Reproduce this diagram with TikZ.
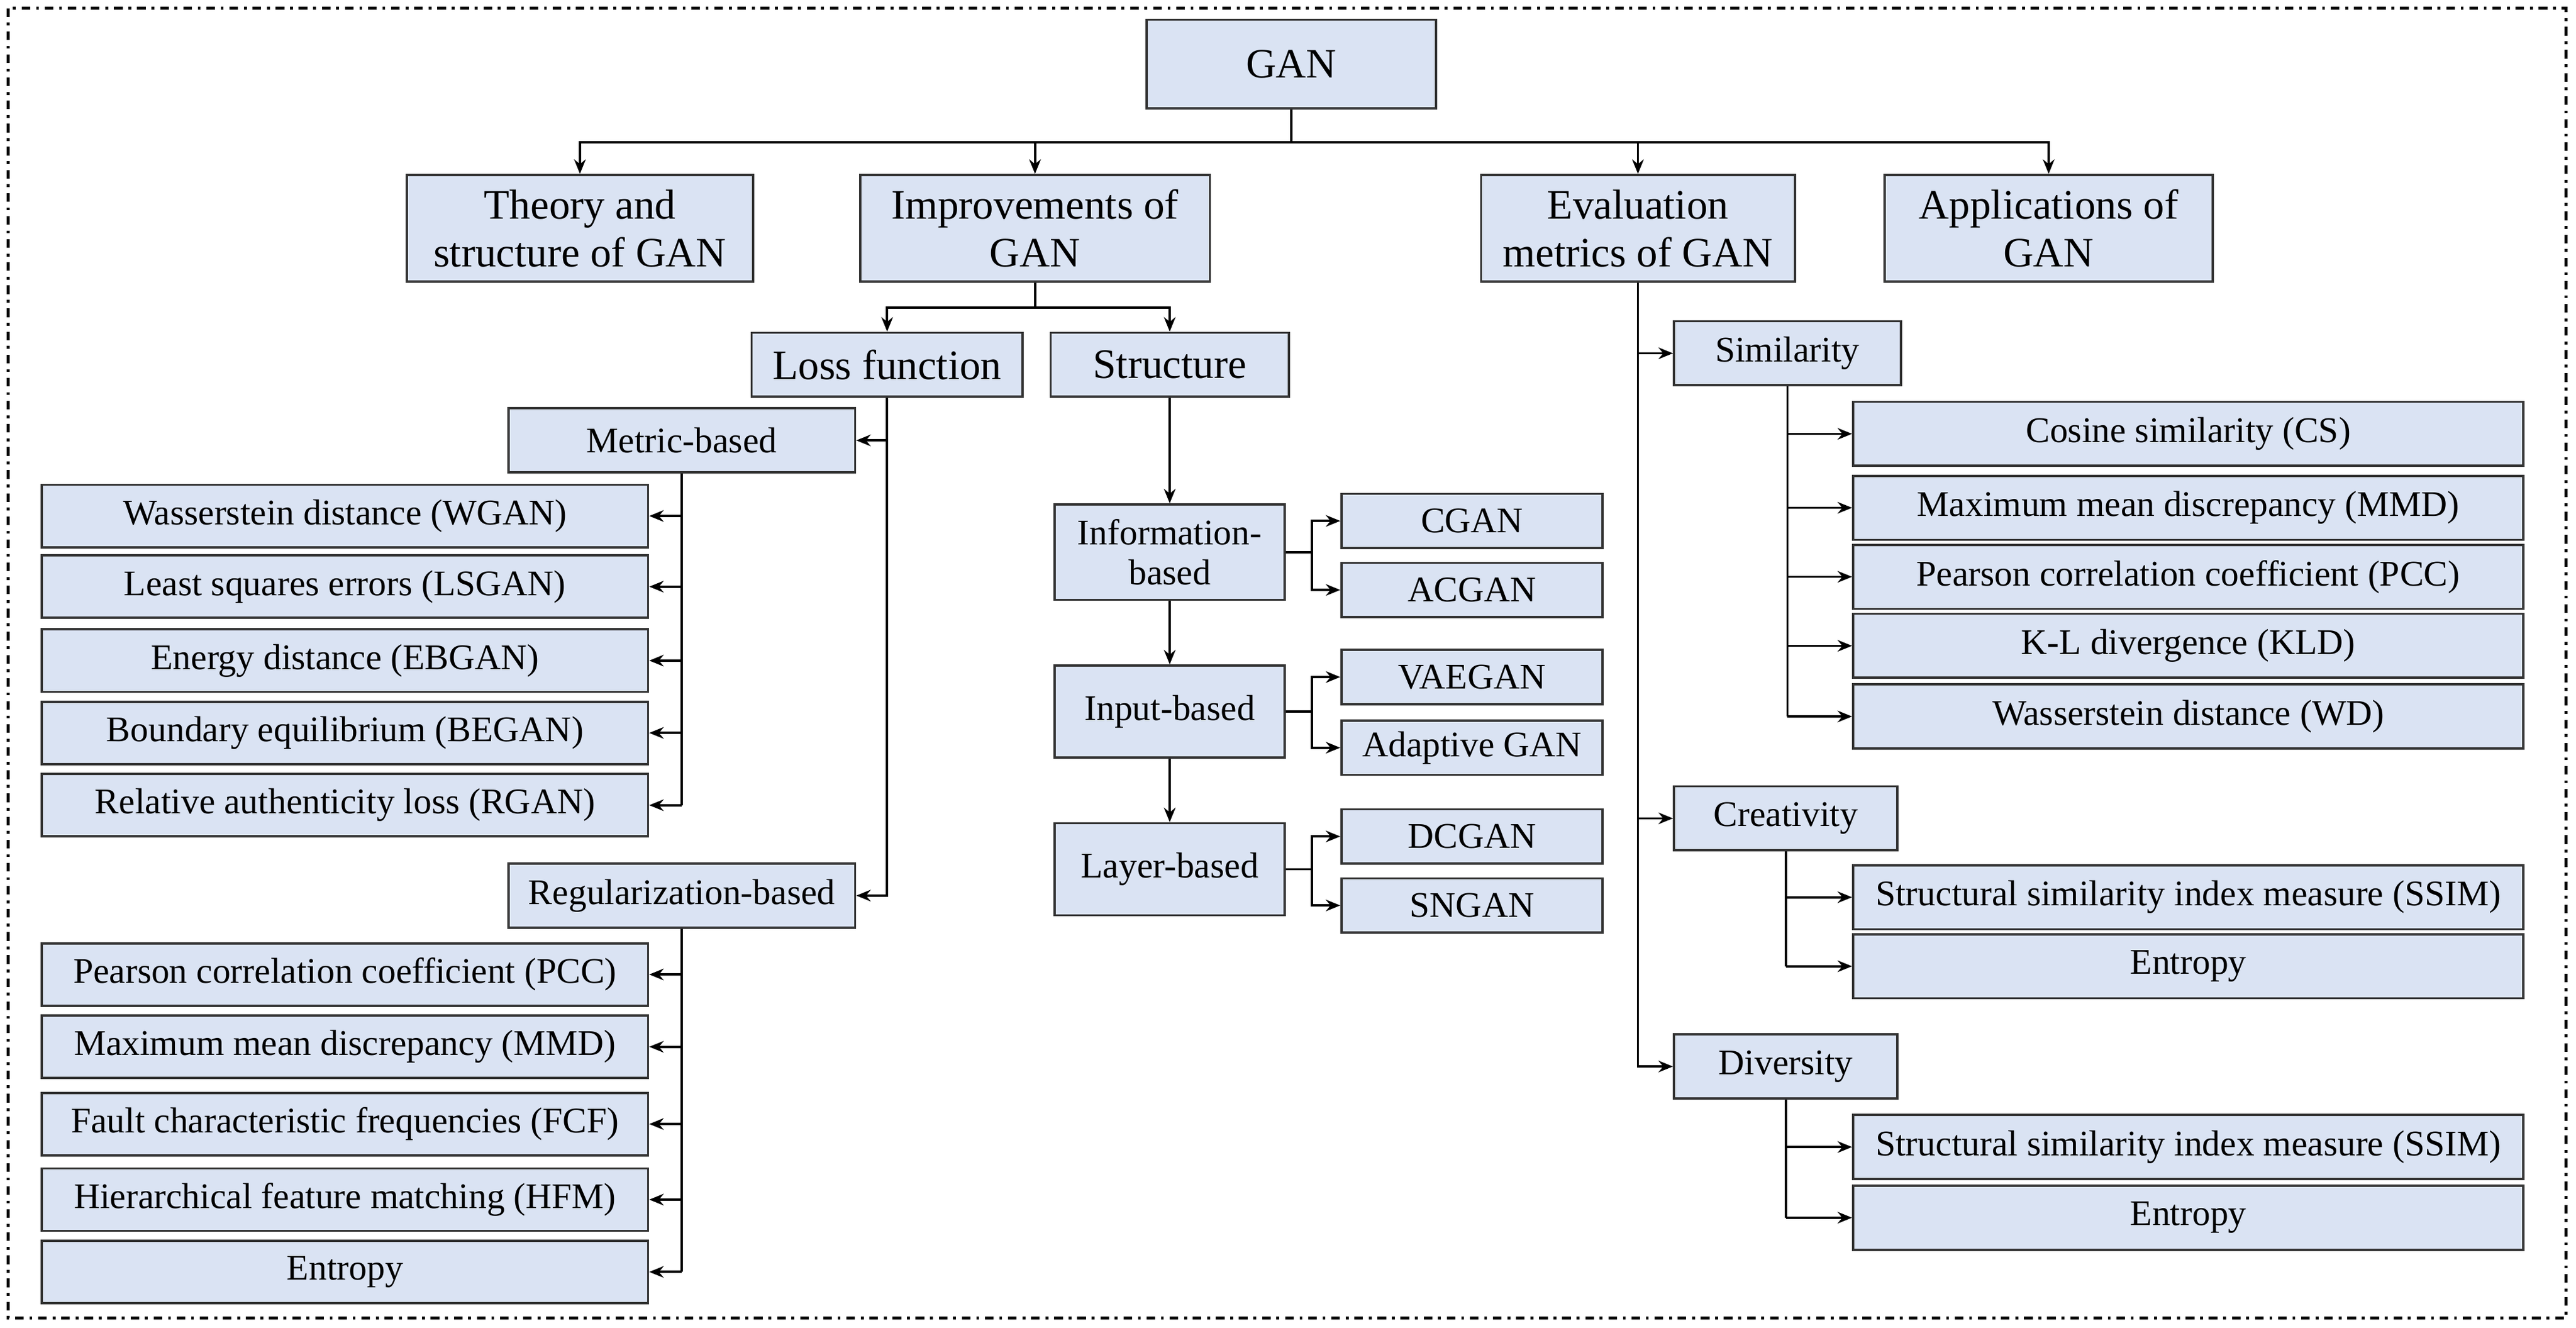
\documentclass[tikz,border=0pt]{standalone}
\usepackage{fontspec}
\setmainfont{Liberation Serif}
\usetikzlibrary{calc,positioning,arrows.meta}
\definecolor{boxfill}{RGB}{218,227,243}

\begin{document}
\begin{tikzpicture}[x=0.02cm,y=-0.02cm,
    box/.style={rectangle,draw=black!80,fill=boxfill,line width=0.8pt,inner sep=0pt,align=center},
    big/.style={box,font=\fontsize{14.5}{16.5}\selectfont},
    small/.style={box,font=\fontsize{12.5}{14}\selectfont},
    leaf/.style={small,minimum width=7.38cm,minimum height=0.76cm},
    eleaf/.style={small,minimum width=8.16cm,minimum height=0.78cm},
    sleaf/.style={small,minimum width=3.18cm,minimum height=0.66cm},
    link/.style={line width=0.8pt},
    arr/.style={link,-{Stealth[length=5pt,width=4pt]}}]

  \useasboundingbox (0,0) rectangle (1568,808);
  \draw[line width=1pt,dash dot] (5,5) rectangle (1562,802);

  % top levels
  \node[big,minimum width=3.52cm,minimum height=1.08cm] (gan) at (786,39) {GAN};
  \node[big,minimum width=4.22cm,minimum height=1.3cm] (theory) at (353,139) {Theory and\\structure of GAN};
  \node[big,minimum width=4.26cm,minimum height=1.3cm] (impr) at (630,139) {Improvements of\\GAN};
  \node[big,minimum width=3.82cm,minimum height=1.3cm] (eval) at (997,139) {Evaluation\\metrics of GAN};
  \node[big,minimum width=4.0cm,minimum height=1.3cm] (appl) at (1247,139) {Applications of\\GAN};

  \draw[link] (gan.south) -- ++(0,20) coordinate (g1);
  \draw[arr] (g1) -| (theory.north);
  \draw[arr] (g1) -| (impr.north);
  \draw[arr] (g1) -| (eval.north);
  \draw[arr] (g1) -| (appl.north);

  % improvements
  \node[big,minimum width=3.3cm,minimum height=0.78cm] (loss) at (540,222) {Loss function};
  \node[big,minimum width=2.9cm,minimum height=0.78cm] (struct) at (712,222) {Structure};
  \draw[link] (impr.south) -- ++(0,15) coordinate (i1);
  \draw[arr] (i1) -| (loss.north);
  \draw[arr] (i1) -| (struct.north);

  \node[small,minimum width=4.22cm,minimum height=0.78cm] (metric) at (415,268) {Metric-based};
  \node[small,minimum width=4.22cm,minimum height=0.78cm] (reg) at (415,545) {Regularization-based};
  \draw[arr] (loss.south) |- (reg.east);
  \draw[arr] (loss.south |- metric.east) -- (metric.east);

  \node[leaf] (wgan) at (210,314) {Wasserstein distance (WGAN)};
  \node[leaf] (lsgan) at (210,357) {Least squares errors (LSGAN)};
  \node[leaf] (ebgan) at (210,402) {Energy distance (EBGAN)};
  \node[leaf] (began) at (210,446) {Boundary equilibrium (BEGAN)};
  \node[leaf] (rgan) at (210,490) {Relative authenticity loss (RGAN)};
  \draw[link] (metric.south) -- (metric.south |- rgan.east);
  \foreach \n in {wgan,lsgan,ebgan,began,rgan}
    \draw[arr] (metric.south |- \n.east) -- (\n.east);

  \node[leaf] (pcc) at (210,593) {Pearson correlation coefficient (PCC)};
  \node[leaf] (mmd) at (210,637) {Maximum mean discrepancy (MMD)};
  \node[leaf] (fcf) at (210,684) {Fault characteristic frequencies (FCF)};
  \node[leaf] (hfm) at (210,730) {Hierarchical feature matching (HFM)};
  \node[leaf] (rent) at (210,774) {Entropy};
  \draw[link] (reg.south) -- (reg.south |- rent.east);
  \foreach \n in {pcc,mmd,fcf,hfm,rent}
    \draw[arr] (reg.south |- \n.east) -- (\n.east);

  % structure
  \node[small,minimum width=2.8cm,minimum height=1.16cm] (info) at (712,336) {Information-\\based};
  \node[small,minimum width=2.8cm,minimum height=1.12cm] (input) at (712,433) {Input-based};
  \node[small,minimum width=2.8cm,minimum height=1.12cm] (layer) at (712,529) {Layer-based};
  \draw[arr] (struct.south) -- (info.north);
  \draw[arr] (info.south) -- (input.north);
  \draw[arr] (input.south) -- (layer.north);

  \node[sleaf] (cgan) at (896,317) {CGAN};
  \node[sleaf] (acgan) at (896,359) {ACGAN};
  \node[sleaf] (vaegan) at (896,412) {VAEGAN};
  \node[sleaf] (adagan) at (896,455) {Adaptive GAN};
  \node[sleaf] (dcgan) at (896,509) {DCGAN};
  \node[sleaf] (sngan) at (896,551) {SNGAN};
  \foreach \p/\a/\b in {info/cgan/acgan,input/vaegan/adagan,layer/dcgan/sngan}{
    \draw[link] (\p.east) -- ++(16,0) coordinate (\p j);
    \draw[arr] (\p j) |- (\a.west);
    \draw[arr] (\p j) |- (\b.west);
  }

  % evaluation
  \node[small,minimum width=2.76cm,minimum height=0.78cm] (sim) at (1088,215) {Similarity};
  \node[small,minimum width=2.72cm,minimum height=0.78cm] (crea) at (1087,498) {Creativity};
  \node[small,minimum width=2.72cm,minimum height=0.78cm] (div) at (1087,649) {Diversity};
  \draw[arr] (eval.south) |- (div.west);
  \draw[arr] (eval.south |- sim.west) -- (sim.west);
  \draw[arr] (eval.south |- crea.west) -- (crea.west);

  \node[eleaf] (cs) at (1332,264) {Cosine similarity (CS)};
  \node[eleaf] (emmd) at (1332,309) {Maximum mean discrepancy (MMD)};
  \node[eleaf] (epcc) at (1332,351) {Pearson correlation coefficient (PCC)};
  \node[eleaf] (kld) at (1332,393) {K-L divergence (KLD)};
  \node[eleaf] (wd) at (1332,436) {Wasserstein distance (WD)};
  \draw[link] (sim.south) -- (sim.south |- wd.west);
  \foreach \n in {cs,emmd,epcc,kld,wd}
    \draw[arr] (sim.south |- \n.west) -- (\n.west);

  \node[eleaf] (cssim) at (1332,546) {Structural similarity index measure (SSIM)};
  \node[eleaf] (cent) at (1332,588) {Entropy};
  \draw[link] (crea.south) -- (crea.south |- cent.west);
  \foreach \n in {cssim,cent}
    \draw[arr] (crea.south |- \n.west) -- (\n.west);

  \node[eleaf] (dssim) at (1332,698) {Structural similarity index measure (SSIM)};
  \node[eleaf] (dent) at (1332,741) {Entropy};
  \draw[link] (div.south) -- (div.south |- dent.west);
  \foreach \n in {dssim,dent}
    \draw[arr] (div.south |- \n.west) -- (\n.west);
\end{tikzpicture}
\end{document}
